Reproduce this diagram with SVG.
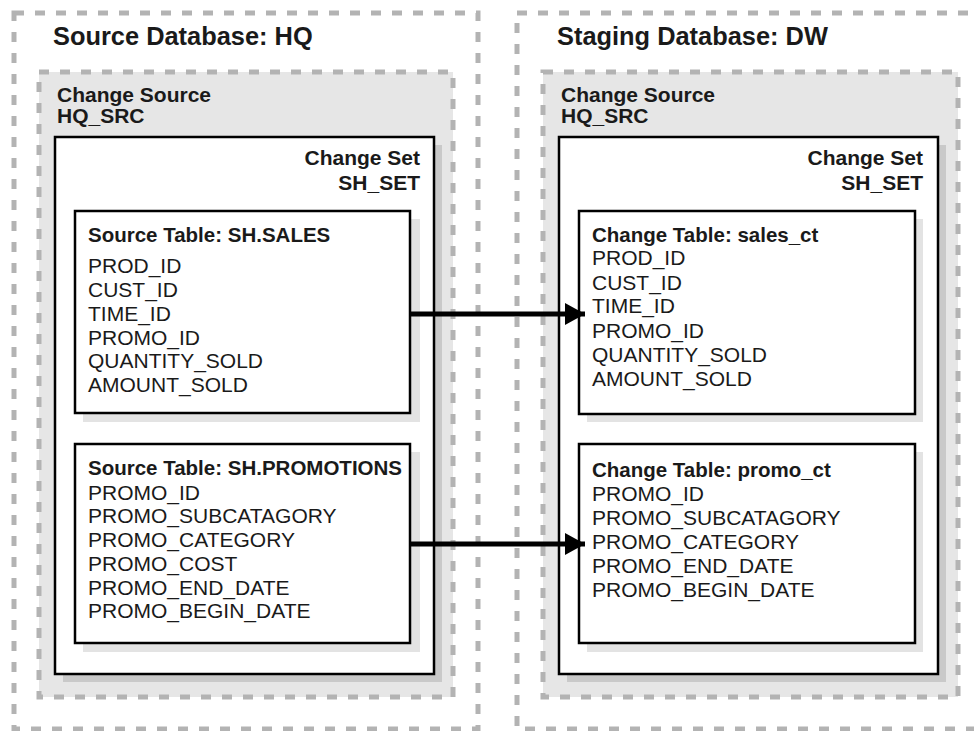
<svg xmlns="http://www.w3.org/2000/svg" width="974" height="731" viewBox="0 0 974 731">
<style>
.outer{fill:#fff;stroke:#b3b3b3;stroke-width:5;stroke-dasharray:10 11}
.src{fill:#e6e6e6;stroke:#b3b3b3;stroke-width:5;stroke-dasharray:10 11}
.set{fill:#fff;stroke:#000;stroke-width:2.5}
.setsh{fill:#c9c9c9}
.tbl{fill:#fff;stroke:#000;stroke-width:2.5}
.tblsh{fill:#e3e3e3}
text{font-family:"Liberation Sans",Arial,sans-serif;fill:#1a1a1a}
.h1{font-size:25.4px;font-weight:bold}
.h2{font-size:21px;font-weight:bold}
.hb{font-size:20.5px;font-weight:bold}
.f{font-size:21px}
.conn{stroke:#000;stroke-width:5;fill:none}
</style>
<defs>
<marker id="ah" markerUnits="userSpaceOnUse" markerWidth="22" markerHeight="24" refX="20" refY="12" orient="auto">
<path d="M0,1 L20,12 L0,23 Z" fill="#000"/>
</marker>
</defs>
<g id="source-db">
<rect class="outer" x="14" y="13" width="464" height="716"/>
<text class="h1" x="53" y="45">Source Database: HQ</text>
</g>
<g id="staging-db">
<rect class="outer" x="517" y="13" width="470" height="716"/>
<text class="h1" x="557" y="45">Staging Database: DW</text>
</g>
<g id="source-change-source">
<rect class="src" x="39" y="72" width="414" height="625"/>
<text class="h2" x="57" y="102">Change Source</text>
<text class="h2" x="57" y="123">HQ_SRC</text>
</g>
<g id="staging-change-source">
<rect class="src" x="543" y="72" width="415" height="625"/>
<text class="h2" x="561" y="102">Change Source</text>
<text class="h2" x="561" y="123">HQ_SRC</text>
</g>
<g id="source-change-set">
<rect class="setsh" x="63" y="145" width="379" height="537"/>
<rect class="set" x="55" y="137" width="379" height="537"/>
<text class="h2" x="420" y="165" text-anchor="end">Change Set</text>
<text class="h2" x="420" y="190" text-anchor="end">SH_SET</text>
</g>
<g id="staging-change-set">
<rect class="setsh" x="567" y="145" width="379" height="537"/>
<rect class="set" x="559" y="137" width="379" height="537"/>
<text class="h2" x="923" y="165" text-anchor="end">Change Set</text>
<text class="h2" x="923" y="190" text-anchor="end">SH_SET</text>
</g>
<g id="sh-sales">
<rect class="tblsh" x="83" y="219" width="337" height="203"/>
<rect class="tbl" x="75" y="211" width="335" height="202"/>
<text class="hb" x="88" y="242">Source Table: SH.SALES</text>
<text class="f" x="88" y="273">PROD_ID</text>
<text class="f" x="88" y="297">CUST_ID</text>
<text class="f" x="88" y="321">TIME_ID</text>
<text class="f" x="88" y="345">PROMO_ID</text>
<text class="f" x="88" y="368">QUANTITY_SOLD</text>
<text class="f" x="88" y="392">AMOUNT_SOLD</text>
</g>
<g id="sh-promotions">
<rect class="tblsh" x="83" y="452" width="337" height="200"/>
<rect class="tbl" x="75" y="444" width="335" height="199"/>
<text class="hb" x="88" y="475">Source Table: SH.PROMOTIONS</text>
<text class="f" x="88" y="500">PROMO_ID</text>
<text class="f" x="88" y="523">PROMO_SUBCATAGORY</text>
<text class="f" x="88" y="547">PROMO_CATEGORY</text>
<text class="f" x="88" y="571">PROMO_COST</text>
<text class="f" x="88" y="595">PROMO_END_DATE</text>
<text class="f" x="88" y="618">PROMO_BEGIN_DATE</text>
</g>
<g id="sales-ct">
<rect class="tblsh" x="587" y="219" width="336" height="203"/>
<rect class="tbl" x="579" y="211" width="336" height="203"/>
<text class="hb" x="592" y="242">Change Table: sales_ct</text>
<text class="f" x="592" y="265">PROD_ID</text>
<text class="f" x="592" y="290">CUST_ID</text>
<text class="f" x="592" y="313">TIME_ID</text>
<text class="f" x="592" y="338">PROMO_ID</text>
<text class="f" x="592" y="362">QUANTITY_SOLD</text>
<text class="f" x="592" y="386">AMOUNT_SOLD</text>
</g>
<g id="promo-ct">
<rect class="tblsh" x="587" y="452" width="336" height="200"/>
<rect class="tbl" x="579" y="444" width="336" height="199"/>
<text class="hb" x="592" y="477">Change Table: promo_ct</text>
<text class="f" x="592" y="501">PROMO_ID</text>
<text class="f" x="592" y="525">PROMO_SUBCATAGORY</text>
<text class="f" x="592" y="549">PROMO_CATEGORY</text>
<text class="f" x="592" y="573">PROMO_END_DATE</text>
<text class="f" x="592" y="597">PROMO_BEGIN_DATE</text>
</g>
<g id="connectors">
<line class="conn" x1="410" y1="314" x2="585" y2="314" marker-end="url(#ah)"/>
<line class="conn" x1="410" y1="544" x2="585" y2="544" marker-end="url(#ah)"/>
</g>
</svg>
